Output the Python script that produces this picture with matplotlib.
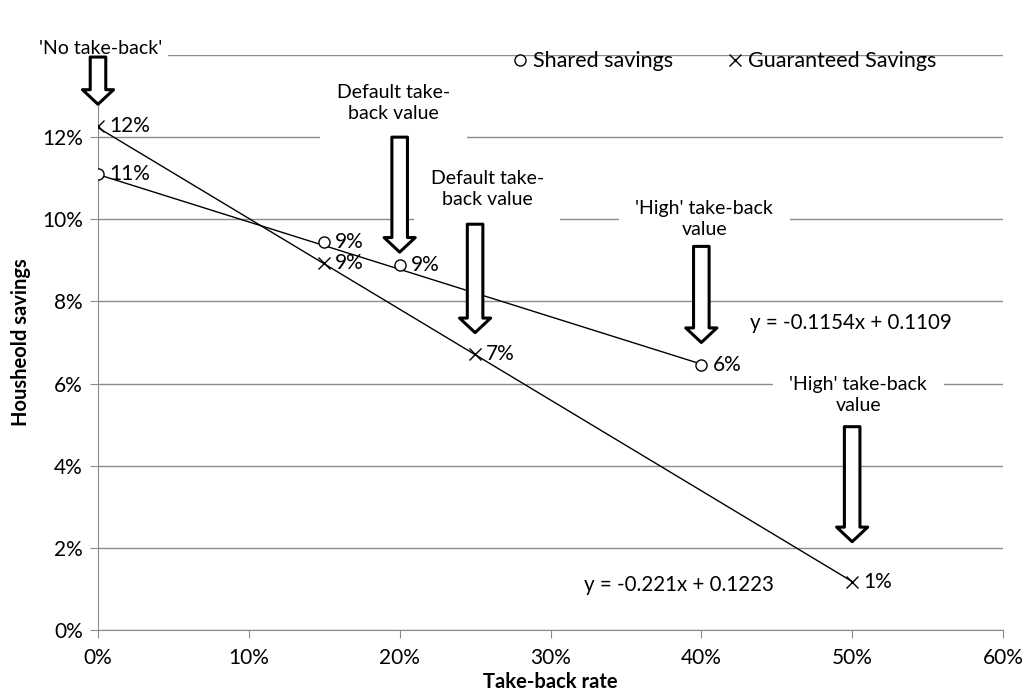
import matplotlib
matplotlib.use("Agg")
import matplotlib.pyplot as plt
from matplotlib.lines import Line2D
from matplotlib.ticker import PercentFormatter

plt.rcParams['font.family'] = ['Lato', 'DejaVu Sans']

# take-back rate and household savings
shared_x = [0.0, 0.15, 0.20, 0.40]
shared_y = [0.1110, 0.0944, 0.0888, 0.0646]
guar_x = [0.0, 0.15, 0.25, 0.50]
guar_y = [0.1227, 0.0893, 0.0673, 0.0117]

# linear trendlines (slope, intercept) as printed on the chart
shared_fit = (-0.1154, 0.1109)
guar_fit = (-0.221, 0.1223)

# callout arrows: x position, tail top, tip
arrow_x = [0.0, 0.20, 0.25, 0.40, 0.50]
arrow_top = [0.1395, 0.1200, 0.0988, 0.0934, 0.0495]
arrow_tip = [0.1280, 0.0920, 0.0724, 0.0700, 0.0215]

# callout texts: label, x, y
callouts = [
    ("'No take-back'", 0.0015, 0.1415),
    ("Default take-\nback value", 0.196, 0.1283),
    ("Default take-\nback value", 0.258, 0.1073),
    ("'High' take-back\nvalue", 0.402, 0.1000),
    ("'High' take-back\nvalue", 0.504, 0.0573),
]

fig = plt.figure(figsize=(10.25, 7), dpi=100)
ax = fig.add_axes([98 / 1025, 70 / 700, 905 / 1025, 575 / 700])

ax.set_xlim(0, 0.6)
ax.set_ylim(0, 0.14)
ax.set_xticks([0, 0.1, 0.2, 0.3, 0.4, 0.5, 0.6])
ax.set_yticks([0, 0.02, 0.04, 0.06, 0.08, 0.10, 0.12, 0.14])
ax.xaxis.set_major_formatter(PercentFormatter(1.0, decimals=0))
ax.yaxis.set_major_formatter(PercentFormatter(1.0, decimals=0))
ax.grid(axis='y', color='#8c8c8c', lw=1)
ax.set_axisbelow(True)
for s in ['top', 'right']:
    ax.spines[s].set_visible(False)
for s in ['left', 'bottom']:
    ax.spines[s].set_color('#8c8c8c')
ax.tick_params(colors='#8c8c8c', labelcolor='black', labelsize=15, length=6, direction='out')
ax.tick_params(axis='x', pad=7)
ax.tick_params(axis='y', pad=5)

# trendlines over the data range
for xs, (m, c) in [(shared_x, shared_fit), (guar_x, guar_fit)]:
    x0, x1 = min(xs), max(xs)
    ax.plot([x0, x1], [m * x0 + c, m * x1 + c], color='black', lw=1, zorder=3)

ax.plot(shared_x, shared_y, ls='none', marker='o', ms=8, mfc='white', mec='black', mew=1, zorder=4)
ax.plot(guar_x, guar_y, ls='none', marker='x', ms=8, color='black', mew=1, zorder=4)

for xs, ys in [(shared_x, shared_y), (guar_x, guar_y)]:
    for x, y in zip(xs, ys):
        ax.annotate(f"{y * 100:.0f}%", (x, y), xytext=(8, 0), textcoords='offset points',
                    va='center', ha='left', fontsize=15, zorder=5)

# equations
ax.text(0.499, 0.0747, f"y = {shared_fit[0]}x + {shared_fit[1]}", ha='center', va='center',
        fontsize=14.8, zorder=5)
ax.text(0.385, 0.0110, f"y = {guar_fit[0]}x + {guar_fit[1]}", ha='center', va='center',
        fontsize=14.8, zorder=5)

for label, x, y in callouts:
    pad = 0.3 if label.startswith("'No") else 0.85
    ax.text(x, y, label, ha='center', va='center', fontsize=14, linespacing=1.3,
            bbox=dict(boxstyle=f'square,pad={pad}', fc='white', ec='none'), zorder=5, clip_on=False)

for x, top, tip in zip(arrow_x, arrow_top, arrow_tip):
    ax.annotate('', xy=(x, tip), xytext=(x, top),
                arrowprops=dict(arrowstyle='simple,head_length=0.75,head_width=1.6,tail_width=0.8',
                                mutation_scale=14, fc='white', ec='black', lw=2.2,
                                shrinkA=0, shrinkB=0),
                zorder=6, annotation_clip=False)

handles = [
    Line2D([], [], ls='none', marker='o', ms=8, mfc='white', mec='black', mew=1),
    Line2D([], [], ls='none', marker='x', ms=8, color='black', mew=1),
]
ax.legend(handles, ['Shared savings', 'Guaranteed Savings'], loc='upper center',
          bbox_to_anchor=(0.693, 1.04), ncol=2, frameon=False, fontsize=15.5,
          handlelength=0.6, handletextpad=0.3, columnspacing=2.6)

ax.set_xlabel('Take-back rate', fontsize=14.5, fontweight='bold', labelpad=3)
ax.set_ylabel('Housheold savings', fontsize=14.5, fontweight='bold', labelpad=8)

fig.savefig('out.png', dpi=100)
